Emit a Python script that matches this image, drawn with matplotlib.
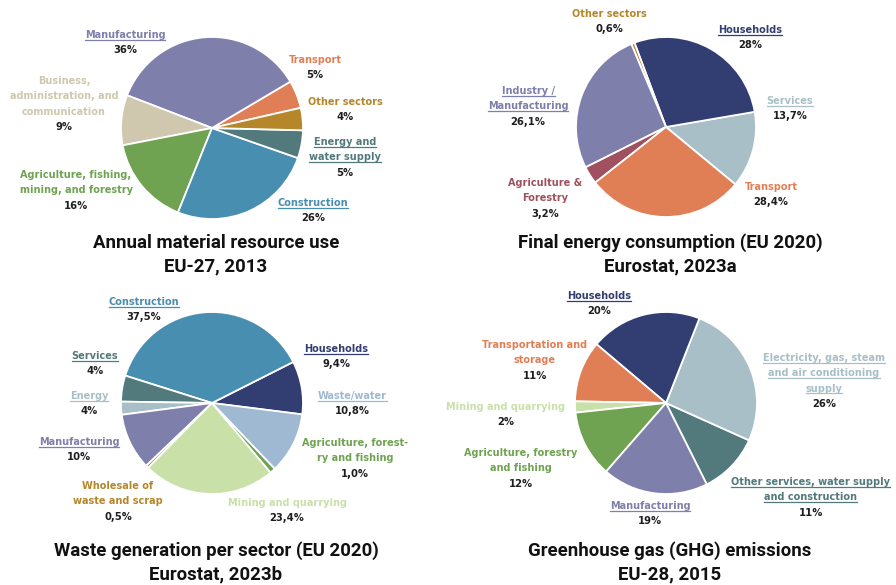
#!/usr/bin/env python

import matplotlib
matplotlib.use("Agg")
import matplotlib.pyplot as plt
from matplotlib.lines import Line2D

W, H = 896, 585

# colours
c_manuf = "#7f7fab"
c_trans = "#e07f55"
c_other = "#b5862a"
c_teal = "#52797c"
c_constr = "#488eb0"
c_agri = "#6fa352"
c_busi = "#cfc8ae"
c_house = "#323d72"
c_serv = "#a8bfc8"
c_agfor = "#a0505e"
c_waste = "#a0b9d2"
c_mining = "#c9e0a8"

# ---- pie 1: annual material resource use
p1_names = ["Transport", "Manufacturing", "Business,\nadministration, and\ncommunication",
            "Agriculture, fishing,\nmining, and forestry", "Construction",
            "Energy and\nwater supply", "Other sectors"]
p1_values = [5, 36, 9, 16, 26, 5, 4]
p1_pct = ["5%", "36%", "9%", "16%", "26%", "5%", "4%"]

# ---- pie 2: final energy consumption
p2_names = ["Services", "Households", "Other sectors", "Industry /\nManufacturing",
            "Agriculture &\nForestry", "Transport"]
p2_values = [13.7, 28, 0.6, 26.1, 3.2, 28.4]
p2_pct = ["13,7%", "28%", "0,6%", "26,1%", "3,2%", "28,4%"]

# ---- pie 3: waste generation per sector
p3_names = ["Households", "Construction", "Services", "Energy", "Manufacturing",
            "Wholesale of\nwaste and scrap", "Mining and quarrying",
            "Agriculture, forest-\nry and fishing", "Waste/water"]
p3_values = [9.4, 37.5, 4.6, 2.3, 10, 0.5, 23.4, 1.0, 10.8]
p3_pct = ["9,4%", "37,5%", "4%", "4%", "10%", "0,5%", "23,4%", "1,0%", "10,8%"]

# ---- pie 4: GHG emissions
p4_names = ["Other services, water supply\nand construction",
            "Electricity, gas, steam\nand air conditioning\nsupply", "Households",
            "Transportation and\nstorage", "Mining and quarrying",
            "Agriculture, forestry\nand fishing", "Manufacturing"]
p4_values = [11, 26, 20, 11, 2, 12, 19]
p4_pct = ["11%", "26%", "20%", "11%", "2%", "12%", "19%"]

pies = [
    dict(names=p1_names, values=p1_values, pct=p1_pct,
         colors=[c_trans, c_manuf, c_busi, c_agri, c_constr, c_teal, c_other],
         center=(212, 128), r=91, start=12.8,
         pos=[(315, 60), (125, 35), (64, 81), (76, 175), (313, 203), (345, 142), (345, 102)],
         under=[False, True, False, False, True, True, False],
         title=("Annual material resource use", "EU-27, 2013"), tx=216, ty=243),
    dict(names=p2_names, values=p2_values, pct=p2_pct,
         colors=[c_serv, c_house, c_other, c_manuf, c_agfor, c_trans],
         center=(666, 127), r=90, start=-39.6,
         pos=[(790, 101), (750, 30), (609, 14), (528, 91), (545, 183), (771, 187)],
         under=[True, True, False, True, False, False],
         title=("Final energy consumption (EU 2020)", "Eurostat, 2023a"), tx=670, ty=243),
    dict(names=p3_names, values=p3_values, pct=p3_pct,
         colors=[c_house, c_constr, c_teal, c_serv, c_manuf, c_other, c_mining, c_agri, c_waste],
         center=(212, 403), r=91, start=-7.2,
         pos=[(336, 349), (144, 302), (95, 356), (89, 396), (79, 442), (118, 486),
              (287, 503), (355, 443), (352, 396)],
         under=[True, True, True, True, True, False, False, False, True],
         title=("Waste generation per sector (EU 2020)", "Eurostat, 2023b"), tx=216, ty=551),
    dict(names=p4_names, values=p4_values, pct=p4_pct,
         colors=[c_teal, c_serv, c_house, c_trans, c_mining, c_agri, c_manuf],
         center=(666, 403), r=91, start=-63.4,
         pos=[(811, 482), (824, 358), (599, 296), (535, 345), (506, 407), (521, 453), (650, 506)],
         under=[True, True, True, False, False, False, True],
         title=("Greenhouse gas (GHG) emissions", "EU-28, 2015"), tx=670, ty=551),
]

fig = plt.figure(figsize=(W / 100, H / 100), dpi=100)
ax = fig.add_axes([0, 0, 1, 1])

lab_font = ["DejaVu Sans"]
title_font = ["Roboto", "DejaVu Sans"]
line_h = 15.3
under_lines = []

for p in pies:
    cx, cy = p["center"]
    ax.pie(p["values"], colors=p["colors"], startangle=p["start"], counterclock=True,
           center=(cx, H - cy), radius=p["r"],
           wedgeprops=dict(edgecolor="white", linewidth=1.3))
    for name, pct, col, (x, y), ul in zip(p["names"], p["pct"], p["colors"], p["pos"], p["under"]):
        lines = name.split("\n")
        for i, ln in enumerate(lines):
            t = ax.text(x, H - (y + i * line_h), ln, ha="center", va="center",
                        color=col, fontsize=7, fontweight="bold", family=lab_font)
            if ul:
                under_lines.append((t, col))
        ax.text(x, H - (y + len(lines) * line_h), pct, ha="center", va="center",
                color="#1e1e1e", fontsize=7.2, fontweight="bold", family=lab_font)
    t1, t2 = p["title"]
    ax.text(p["tx"], H - p["ty"], t1, ha="center", va="center", fontsize=13.4,
            fontweight="bold", family=title_font, color="#111111")
    ax.text(p["tx"], H - (p["ty"] + 23), t2, ha="center", va="center", fontsize=13.4,
            fontweight="bold", family=title_font, color="#111111")

ax.set_xlim(0, W)
ax.set_ylim(0, H)
ax.set_aspect("equal")
ax.axis("off")

# underline some of the labels
fig.canvas.draw()
rend = fig.canvas.get_renderer()
inv = ax.transData.inverted()
for t, col in under_lines:
    bb = t.get_window_extent(rend)
    (x0, y0), (x1, y1) = inv.transform([(bb.x0, bb.y0), (bb.x1, bb.y1)])
    ax.add_line(Line2D([x0, x1], [y0 + 0.2, y0 + 0.2], color=col, lw=0.9))

fig.savefig("out.png", dpi=100, facecolor="white")
